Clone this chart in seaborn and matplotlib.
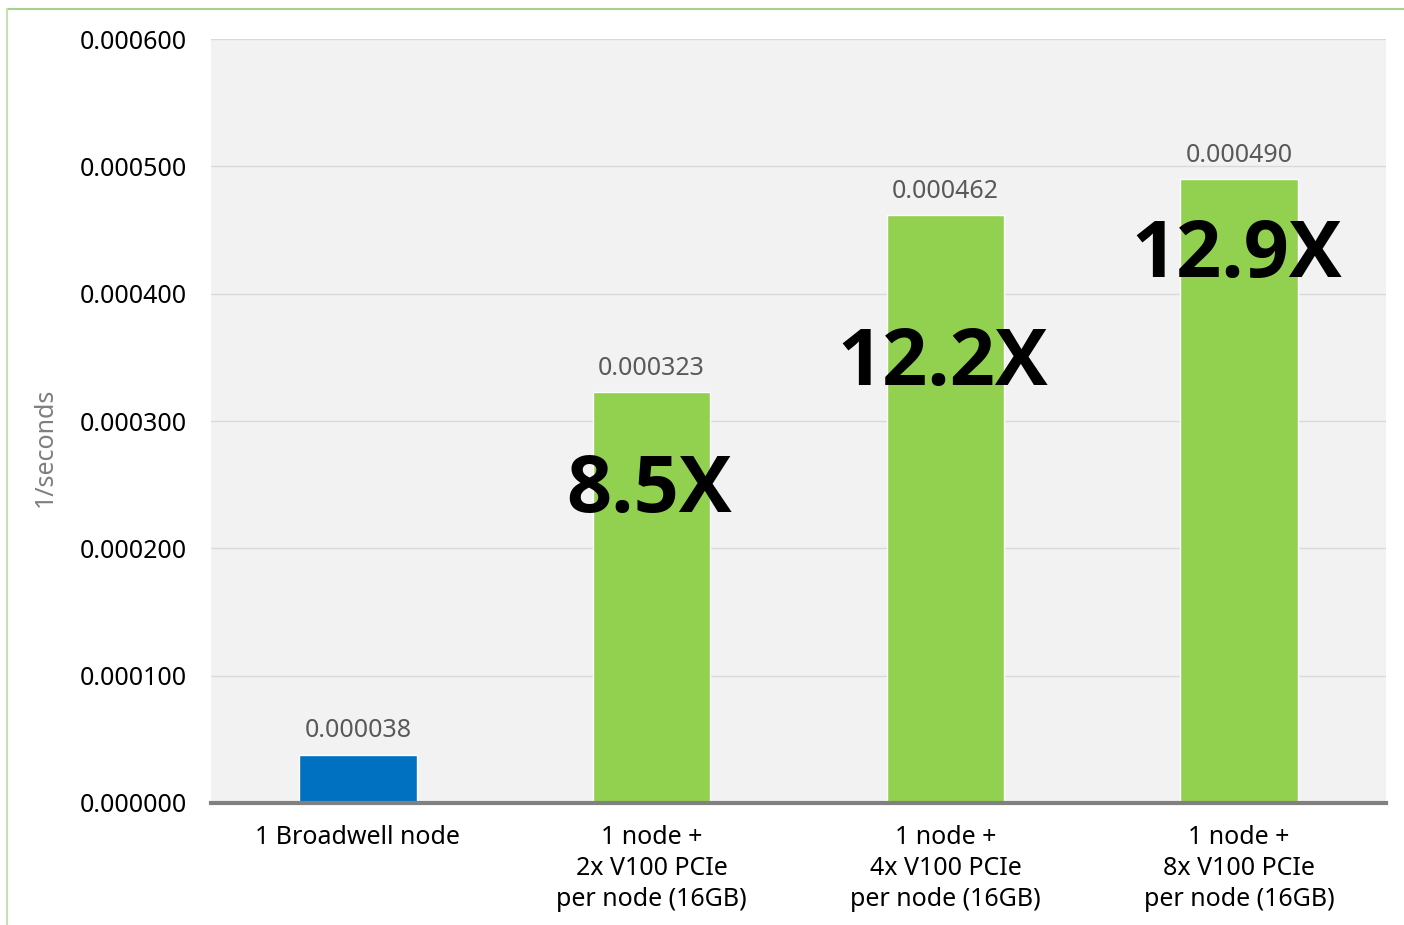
import seaborn as sns
import matplotlib.pyplot as plt
from matplotlib.lines import Line2D

categories = ["1 Broadwell node",
              "1 node +\n2x V100 PCIe\nper node (16GB)",
              "1 node +\n4x V100 PCIe\nper node (16GB)",
              "1 node +\n8x V100 PCIe\nper node (16GB)"]
values = [0.000038, 0.000323, 0.000462, 0.000490]
speedups = ["", "8.5X", "12.2X", "12.9X"]
speedup_y = [0, 0.000245, 0.000344, 0.000429]
colors = ["#0070C0", "#92D050", "#92D050", "#92D050"]
yticks = [0, 0.0001, 0.0002, 0.0003, 0.0004, 0.0005, 0.0006]

sns.set_style("white")
plt.rcParams["font.family"] = ["Noto Sans", "DejaVu Sans"]

fig = plt.figure(figsize=(14.04, 9.25), dpi=100)
ax = fig.add_axes([0.1503, 0.1319, 0.8369, 0.8259])
ax.set_facecolor("#F2F2F2")

sns.barplot(x=categories, y=values, hue=categories, palette=colors,
            legend=False, width=0.4, saturation=1, ax=ax)

ax.set_xlim(-0.5, 3.5)
ax.set_ylim(0, 0.0006)
ax.set_yticks(yticks)
ax.set_yticklabels([f"{t:.6f}" for t in yticks])
ax.yaxis.grid(True, color="#D9D9D9", lw=1)
ax.set_axisbelow(True)
ax.tick_params(axis="y", length=0, pad=17.5, labelsize=18, labelcolor="black")
ax.tick_params(axis="x", length=0, pad=16, labelsize=18, labelcolor="black")
for lab in ax.get_xticklabels():
    lab.set_linespacing(1.3)

for s in ["top", "right", "left"]:
    ax.spines[s].set_visible(False)
ax.spines["bottom"].set_color("#808080")
ax.spines["bottom"].set_linewidth(3)

ax.set_ylabel("1/seconds", fontsize=18, color="#7F7F7F")
ax.yaxis.set_label_coords(-0.130, 0.465)
ax.set_xlabel("")

for i, v in enumerate(values):
    ax.annotate(f"{v:.6f}", (i, v), xytext=(0, 8), textcoords="offset points",
                ha="center", va="bottom", fontsize=18, color="#595959")
    if speedups[i]:
        ax.text(i - 0.01, speedup_y[i], speedups[i], ha="center", va="center",
                fontsize=57, fontweight="bold", color="black",
                family=["Open Sans", "DejaVu Sans"])

# light green frame on top and left
fig.add_artist(Line2D([0.005, 1.0], [0.9903, 0.9903], color="#A9D18E", lw=1.5,
                      transform=fig.transFigure))
fig.add_artist(Line2D([0.005, 0.005], [0.0, 0.9903], color="#C5E0B4", lw=1.5,
                      transform=fig.transFigure))

fig.savefig("out.png", dpi=100)
